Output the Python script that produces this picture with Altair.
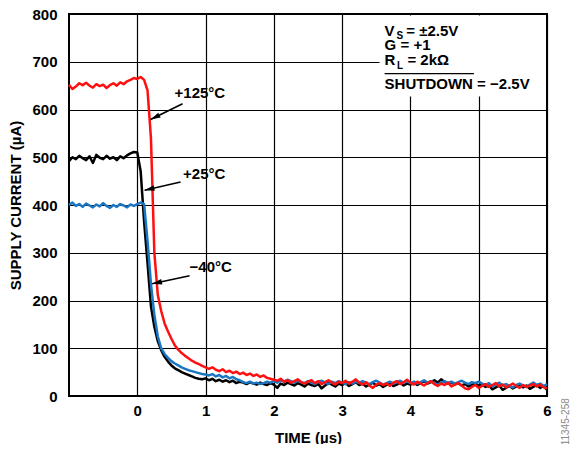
import math
import altair as alt
import pandas as pd

# ---------------- data ----------------
time_us = [round(-1 + 0.05 * i, 2) for i in range(141)]

red_125 = [
    652, 643, 648, 655, 651, 656, 650, 646, 653, 649, 652, 645, 651, 655, 650, 657, 653, 659, 662, 666, 664,
    668, 662, 640, 540, 300, 212, 178, 152, 135, 120, 106, 97, 90, 84, 79, 74, 70, 67, 63, 60,
    57, 60, 55, 52, 56, 50, 53, 48, 51, 46, 49, 44, 47, 42, 45, 40, 43, 38, 36, 34,
    32, 36, 30, 33, 28, 31, 35, 29, 26, 30, 33, 27, 31, 25, 29, 33, 28, 24, 30, 27,
    32, 26, 30, 35, 28, 24, 29, 22, 17, 24, 27, 23, 26, 21, 28, 31, 25, 29, 34, 28,
    24, 30, 26, 22, 27, 31, 25, 21, 26, 23, 28, 20, 24, 27, 22, 16, 14, 19, 23, 17,
    21, 25, 19, 23, 27, 20, 24, 18, 22, 26, 21, 17, 23, 19, 22, 25, 20, 24, 18, 16,
]
black_25 = [
    492, 500, 496, 503, 498, 494, 502, 488, 505, 499, 496, 503, 497, 500, 494, 502, 498, 504, 508, 511, 510,
    470, 365, 278, 188, 145, 115, 96, 82, 72, 64, 58, 54, 50, 47, 44, 41, 38, 36, 35, 37,
    33, 36, 31, 34, 30, 33, 29, 32, 27, 30, 28, 25, 29, 26, 24, 28, 25, 23, 27, 24,
    17, 26, 23, 28, 25, 22, 27, 24, 20, 26, 23, 21, 25, 16, 22, 27, 24, 20, 26, 23,
    27, 21, 25, 29, 23, 26, 20, 24, 28, 22, 25, 19, 23, 27, 21, 24, 28, 22, 26, 24,
    28, 23, 27, 31, 26, 29, 33, 28, 35, 30, 26, 29, 24, 27, 22, 25, 20, 23, 27, 21,
    24, 19, 22, 14, 18, 22, 13, 17, 21, 16, 20, 24, 18, 22, 15, 19, 23, 17, 21, 13,
]
blue_m40 = [
    400, 405, 398, 402, 396, 403, 399, 395, 401, 397, 404, 398, 394, 400, 396, 402, 399, 395, 401, 398, 402,
    405, 402, 325, 235, 170, 125, 100, 88, 80, 73, 68, 64, 60, 57, 54, 52, 50, 48, 46, 45,
    43, 46, 41, 44, 39, 42, 37, 40, 35, 33, 29, 27, 30, 26, 28, 25, 27, 30, 28, 31,
    28, 33, 30, 34, 31, 28, 32, 29, 27, 31, 28, 25, 29, 32, 28, 25, 30, 27, 31, 28,
    25, 29, 26, 30, 27, 31, 28, 25, 29, 32, 28, 24, 27, 30, 26, 29, 32, 28, 31, 27,
    30, 26, 29, 33, 28, 31, 27, 24, 28, 31, 27, 30, 26, 29, 32, 28, 25, 29, 27, 30,
    26, 23, 27, 20, 24, 28, 22, 25, 21, 18, 23, 26, 22, 19, 24, 28, 23, 26, 21, 25,
]

x_ticks = [0, 1, 2, 3, 4, 5, 6]
y_ticks = [0, 100, 200, 300, 400, 500, 600, 700, 800]

# annotation labels (data coordinates)
label_text = ["+125°C", "+25°C", "−40°C"]
label_t = [0.546, 0.671, 0.766]
label_i = [635, 465, 271]
arrow_t0 = [0.663, 0.634, 0.766]
arrow_i0 = [612, 448, 252]
arrow_t1 = [0.195, 0.107, 0.217]
arrow_i1 = [579, 431, 235]

# conditions box
box_text = ["V", "S", "= ±2.5V", "G = +1", "R", "L", "= 2kΩ", "SHUTDOWN = −2.5V"]
box_t = [3.622, 3.795, 3.940, 3.622, 3.622, 3.805, 3.956, 3.622]
box_i = [754, 748, 754, 724, 693, 685, 693, 643]
box_size = [15, 10, 15, 15, 15, 10, 15, 15]

W, H = 478, 382
FONT = "Liberation Sans"

rows = []
for name, vals in [("+25°C", black_25), ("−40°C", blue_m40), ("+125°C", red_125)]:
    for t, v in zip(time_us, vals):
        rows.append({"t": t, "current": v, "series": name})
df = pd.DataFrame(rows)

sx = W / 7.0
sy = H / 800.0
angles = []
for a, b, c, d in zip(arrow_t0, arrow_i0, arrow_t1, arrow_i1):
    dx = (c - a) * sx
    dy = -(d - b) * sy
    angles.append(math.degrees(math.atan2(dx, -dy)) % 360)

ann = pd.DataFrame({"text": label_text, "t": label_t, "i": label_i,
                    "t0": arrow_t0, "i0": arrow_i0, "t1": arrow_t1, "i1": arrow_i1,
                    "ang": angles})
box = pd.DataFrame({"text": box_text, "t": box_t, "i": box_i, "size": box_size})

xs = alt.Scale(domain=[-1, 6], nice=False, zero=False)
ys = alt.Scale(domain=[0, 800], nice=False)

x_axis = alt.Axis(values=x_ticks, title="TIME (µs)", grid=True, gridColor="black", gridWidth=1.2,
                  gridOpacity=1, ticks=False, domain=False, labelFlush=False,
                  labelFont=FONT, labelFontSize=15, labelFontWeight="bold", labelColor="black",
                  labelPadding=7, titleFont=FONT, titleFontSize=15, titleFontWeight="bold",
                  titleColor="black", titlePadding=12)
y_axis = alt.Axis(values=y_ticks, title="SUPPLY CURRENT (µA)", grid=True, gridColor="black",
                  gridWidth=1.2, gridOpacity=1, ticks=False, domain=False, labelFlush=False,
                  labelFont=FONT, labelFontSize=15, labelFontWeight="bold", labelColor="black",
                  labelPadding=12, titleFont=FONT, titleFontSize=15, titleFontWeight="bold",
                  titleColor="black", titlePadding=8)


def X(field):
    return alt.X(field, type="quantitative", scale=xs, axis=x_axis)


def Y(field):
    return alt.Y(field, type="quantitative", scale=ys, axis=y_axis)


base = alt.Chart(df)
colors = {"+25°C": "#000000", "−40°C": "#1a75c2", "+125°C": "#ff1010"}
lines = []
for name in ["+25°C", "−40°C", "+125°C"]:
    lines.append(base.transform_filter(alt.datum.series == name)
                 .mark_line(color=colors[name], strokeWidth=2.5, strokeJoin="round")
                 .encode(x=X("t"), y=Y("current")))

# white backdrop for the conditions box
rect_df = pd.DataFrame({"t": [3.548], "t2": [5.985], "i": [627], "i2": [797]})
backdrop = alt.Chart(rect_df).mark_rect(color="white").encode(
    x=X("t"), x2="t2", y=Y("i"), y2="i2")

box_txt = alt.Chart(box).mark_text(align="left", baseline="alphabetic", font=FONT,
                                   fontWeight="bold", color="black").encode(
    x=X("t"), y=Y("i"), text="text:N", size=alt.Size("size:Q", scale=None))

over_df = pd.DataFrame({"t": [3.622], "t2": [4.93], "i": [675]})
overline = alt.Chart(over_df).mark_rule(color="black", strokeWidth=1.3).encode(
    x=X("t"), x2="t2", y=Y("i"))

ann_base = alt.Chart(ann)
labels = ann_base.mark_text(align="left", baseline="middle", font=FONT, fontSize=15,
                            fontWeight="bold", color="black").encode(
    x=X("t"), y=Y("i"), text="text:N")
shafts = ann_base.mark_rule(color="black", strokeWidth=1.6).encode(
    x=X("t0"), x2="t1", y=Y("i0"), y2="i1")
heads = ann_base.mark_point(shape="M0,0L0.5,1.8L-0.5,1.8Z", filled=True, size=121,
                            color="black", opacity=1, strokeWidth=0).encode(
    x=X("t1"), y=Y("i1"), angle=alt.Angle("ang:Q", scale=None))

code_df = pd.DataFrame({"t": [6.28], "i": [-54], "text": ["11345-258"]})
code = alt.Chart(code_df).mark_text(angle=270, font=FONT, fontSize=10, color="#8a8a8a",
                                    align="center", baseline="middle").encode(
    x=X("t"), y=Y("i"), text="text:N")

chart = alt.layer(*lines, backdrop, box_txt, overline, shafts, heads, labels, code).properties(
    width=W, height=H,
    background="white",
    autosize=alt.AutoSizeParams(type="none"),
    padding={"left": 61, "top": 6, "right": 24, "bottom": 48},
).configure_view(stroke="black", strokeWidth=2)

chart.save("out.html", embed_options={"renderer": "svg", "actions": False})
